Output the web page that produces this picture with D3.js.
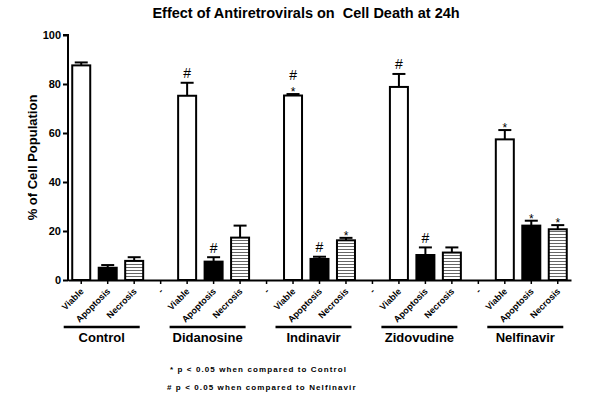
<!DOCTYPE html>
<html>
<head>
<meta charset="utf-8">
<script src="https://cdn.jsdelivr.net/npm/d3@7"></script>
<style>
  body { margin: 0; background: #fff; }
  text { font-family: Arial, "Liberation Sans", sans-serif; }
</style>
</head>
<body>
<div id="chart"></div>
<script>
const groups = ["Control", "Didanosine", "Indinavir", "Zidovudine", "Nelfinavir"];
const measures = ["Viable", "Apoptosis", "Necrosis"];

const viable = [87.6, 75.2, 75.3, 78.8, 57.4];
const viableErr = [1.2, 5.3, 0.6, 5.3, 3.8];
const apoptosis = [5.0, 7.5, 8.6, 10.2, 22.2];
const apoptosisErr = [1.1, 1.8, 0.9, 3.1, 2.0];
const necrosis = [7.8, 17.3, 16.2, 11.2, 20.7];
const necrosisErr = [1.5, 4.9, 1.0, 2.1, 1.7];

// significance marks, top to bottom
const viableSig = ["", "#", "#*", "#", "*"];
const apoptosisSig = ["", "#", "#", "#", "*"];
const necrosisSig = ["", "", "*", "", "*"];

const yTicks = [0, 20, 40, 60, 80, 100];
const footnotes = ["* p < 0.05 when compared to Control", "# p < 0.05 when compared to Nelfinavir"];

const drawChart = () => {
    const width = 600;
    const height = 400;
    const margin = { top: 35, right: 29, bottom: 120, left: 68 };
    const innerWidth = width - margin.left - margin.right;
    const innerHeight = height - margin.top - margin.bottom;

    const seriesVals = { Viable: viable, Apoptosis: apoptosis, Necrosis: necrosis };
    const seriesErr = { Viable: viableErr, Apoptosis: apoptosisErr, Necrosis: necrosisErr };
    const seriesSig = { Viable: viableSig, Apoptosis: apoptosisSig, Necrosis: necrosisSig };

    // 19 slots: 3 bars per group with a blank slot between groups
    const slots = [];
    groups.forEach((g, gi) => {
        if (gi > 0) slots.push({ key: "gap" + gi, label: "-", gap: true });
        measures.forEach(m => {
            slots.push({
                key: g + "|" + m, label: m, group: g, measure: m,
                value: seriesVals[m][gi], err: seriesErr[m][gi], sig: seriesSig[m][gi]
            });
        });
    });
    const bars = slots.filter(d => !d.gap);

    const svg = d3.select("#chart")
        .append("svg")
        .attr("width", width)
        .attr("height", height)
        .attr("viewBox", `0, 0, ${width}, ${height}`);

    const defs = svg.append("defs");
    const pat = defs.append("pattern")
        .attr("id", "stripes")
        .attr("patternUnits", "userSpaceOnUse")
        .attr("width", 6)
        .attr("height", 3);
    pat.append("rect").attr("width", 6).attr("height", 3).attr("fill", "#fff");
    pat.append("rect").attr("y", 1).attr("width", 6).attr("height", 1).attr("fill", "#666");

    const inner = svg.append("g")
        .attr("transform", `translate(${margin.left}, ${margin.top})`);

    const xScale = d3.scaleBand()
        .domain(slots.map(d => d.key))
        .range([0, innerWidth])
        .paddingInner(0.32)
        .paddingOuter(0.16);
    const bw = xScale.bandwidth();

    const yScale = d3.scaleLinear()
        .domain([0, 100])
        .range([innerHeight, 0]);

    // bars
    inner.selectAll("rect.bar")
        .data(bars)
        .join("rect")
        .attr("class", "bar")
        .attr("x", d => xScale(d.key))
        .attr("y", d => yScale(d.value))
        .attr("width", bw)
        .attr("height", d => yScale(0) - yScale(d.value))
        .attr("fill", d => d.measure === "Apoptosis" ? "#000" : d.measure === "Necrosis" ? "url(#stripes)" : "#fff")
        .attr("stroke", "#000")
        .attr("stroke-width", 2);

    // error bars (upper only)
    const eb = inner.selectAll("g.err")
        .data(bars)
        .join("g")
        .attr("class", "err")
        .attr("stroke", "#000")
        .attr("stroke-width", 2);
    eb.append("line")
        .attr("x1", d => xScale(d.key) + bw / 2)
        .attr("x2", d => xScale(d.key) + bw / 2)
        .attr("y1", d => yScale(d.value))
        .attr("y2", d => yScale(d.value + d.err));
    eb.append("line")
        .attr("x1", d => xScale(d.key) + bw / 2 - 6.5)
        .attr("x2", d => xScale(d.key) + bw / 2 + 6.5)
        .attr("y1", d => yScale(d.value + d.err))
        .attr("y2", d => yScale(d.value + d.err));

    // significance marks
    bars.filter(d => d.sig).forEach(d => {
        const cx = xScale(d.key) + bw / 2;
        let yb = yScale(d.value + d.err);
        const chars = d.sig.split("").reverse();
        chars.forEach(c => {
            if (c === "*") {
                inner.append("text")
                    .attr("x", cx).attr("y", yb + 2)
                    .attr("text-anchor", "middle")
                    .attr("font-size", 12)
                    .text("*");
                yb -= 10;
            } else {
                inner.append("text")
                    .attr("x", cx).attr("y", yb - 4.5)
                    .attr("text-anchor", "middle")
                    .attr("font-size", 14)
                    .text("#");
                yb -= 16;
            }
        });
    });

    // y axis
    const leftAxis = d3.axisLeft(yScale)
        .tickValues(yTicks)
        .tickSize(5)
        .tickPadding(2);
    const ya = inner.append("g").attr("class", "axis-y").call(leftAxis);
    ya.select(".domain").attr("stroke-width", 2).attr("d", `M0,${innerHeight + 1}V0H-5`);
    ya.selectAll(".tick line").attr("stroke-width", 2);
    ya.selectAll(".tick text")
        .attr("font-size", 11)
        .attr("font-weight", "bold")
        .attr("font-family", "Arial, sans-serif")
        .attr("fill", "#000");

    // x axis
    const bottomAxis = d3.axisBottom(xScale)
        .tickSize(4)
        .tickSizeOuter(0)
        .tickFormat(k => slots.find(s => s.key === k).label);
    const xa = inner.append("g")
        .attr("class", "axis-x")
        .attr("transform", `translate(0, ${innerHeight})`)
        .call(bottomAxis);
    xa.select(".domain").attr("stroke-width", 2);
    xa.selectAll(".tick line").attr("stroke-width", 1.5);
    xa.selectAll(".tick text")
        .attr("font-size", 9)
        .attr("font-weight", "bold")
        .attr("font-family", "Arial, sans-serif")
        .attr("fill", "#000")
        .attr("text-anchor", "end")
        .attr("dy", 0)
        .attr("y", 0)
        .attr("transform", "translate(3, 12) rotate(-45)");

    // group labels and lines
    groups.forEach(g => {
        const first = xScale(g + "|" + measures[0]) + bw / 2;
        const last = xScale(g + "|" + measures[2]) + bw / 2;
        const mid = (first + last) / 2 - 6;
        inner.append("line")
            .attr("x1", mid - 38).attr("x2", mid + 38)
            .attr("y1", innerHeight + 47).attr("y2", innerHeight + 47)
            .attr("stroke", "#000")
            .attr("stroke-width", 2.5);
        inner.append("text")
            .attr("x", mid)
            .attr("y", innerHeight + 62)
            .attr("text-anchor", "middle")
            .attr("font-size", 13)
            .attr("font-weight", "bold")
            .text(g);
    });

    // title
    svg.append("text")
        .attr("x", 306)
        .attr("y", 18)
        .attr("text-anchor", "middle")
        .attr("font-size", 14.5)
        .attr("font-weight", "bold")
        .attr("xml:space", "preserve")
        .text("Effect of Antiretrovirals on  Cell Death at 24h");

    // y label
    svg.append("text")
        .attr("transform", `translate(37, ${margin.top + innerHeight / 2}) rotate(-90)`)
        .attr("text-anchor", "middle")
        .attr("font-size", 13)
        .attr("font-weight", "bold")
        .text("% of Cell Population");

    // footnotes
    svg.selectAll("text.note")
        .data(footnotes)
        .join("text")
        .attr("class", "note")
        .attr("x", (d, i) => i === 0 ? 170 : 167)
        .attr("y", (d, i) => 372 + i * 18)
        .attr("font-size", 8)
        .attr("font-weight", "bold")
        .attr("letter-spacing", 1.1)
        .text(d => d);
};

drawChart();
</script>
</body>
</html>
